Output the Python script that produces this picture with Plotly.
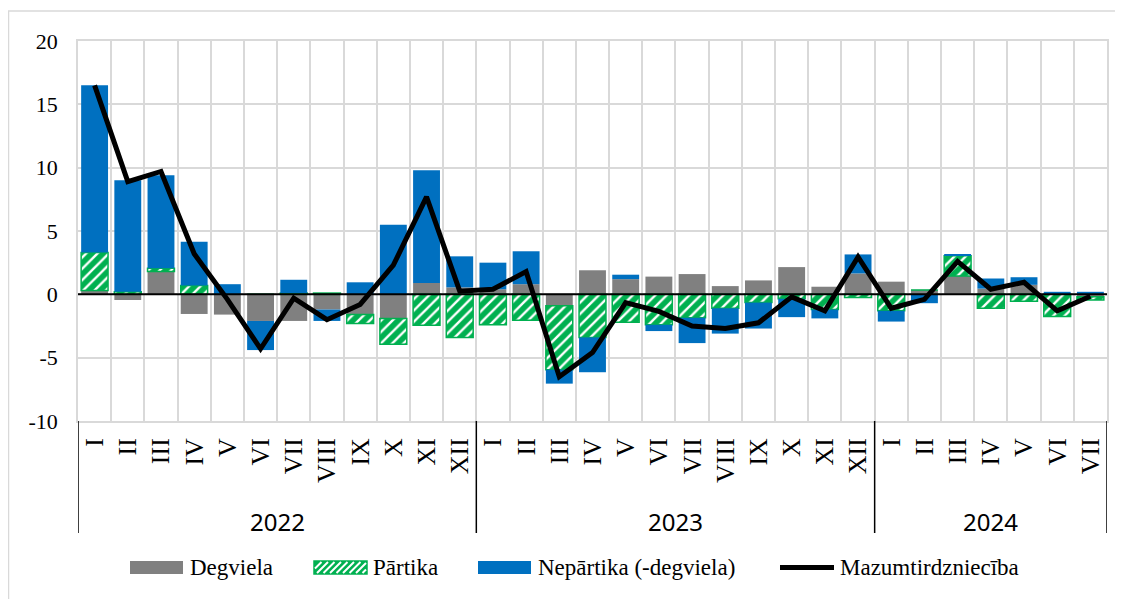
import plotly.graph_objects as go

# ---------------- data ----------------
years = ["2022", "2023", "2024"]
months_2022 = ["I", "II", "III", "IV", "V", "VI", "VII", "VIII", "IX", "X", "XI", "XII"]
months_2023 = ["I", "II", "III", "IV", "V", "VI", "VII", "VIII", "IX", "X", "XI", "XII"]
months_2024 = ["I", "II", "III", "IV", "V", "VI", "VII"]

degviela = [0.3, -0.45, 1.8, -1.55, -1.6, -2.1, -2.1, -1.2, -1.6, -1.9, 0.9, 0.55,
            0.4, 0.8, -0.9, 1.9, 1.2, 1.4, 1.6, 0.65, 1.1, 2.15, 0.6, 1.65,
            1.0, 0.35, 1.45, 0.45, 0.75, 0.05, -0.2]
partika = [3.0, 0.2, 0.25, 0.7, 0.0, 0.0, 0.1, 0.1, -0.7, -2.05, -2.45, -3.4,
           -2.4, -2.05, -5.05, -3.4, -2.2, -2.4, -1.85, -1.1, -0.65, -0.35, -1.2, -0.25,
           -1.3, 0.0, 1.6, -1.1, -0.55, -1.75, -0.25]
nepartika = [13.2, 8.8, 7.35, 3.45, 0.8, -2.3, 1.05, -0.9, 0.95, 5.5, 8.9, 2.45,
             2.1, 2.6, -1.1, -2.75, 0.35, -0.5, -2.0, -2.0, -2.05, -1.45, -0.7, 1.5,
             -0.85, -0.7, 0.1, 0.8, 0.6, 0.15, 0.2]
mazumtirdznieciba = [16.5, 8.9, 9.7, 3.2, -0.4, -4.3, -0.3, -2.0, -0.8, 2.3, 7.7, 0.25,
                     0.4, 1.8, -6.5, -4.6, -0.65, -1.35, -2.5, -2.7, -2.25, -0.2, -1.3, 2.95,
                     -1.1, -0.4, 2.6, 0.4, 0.95, -1.3, -0.15]

series_names = ["Degviela", "Pārtika", "Nepārtika (-degviela)", "Mazumtirdzniecība"]
y_ticks = [-10, -5, 0, 5, 10, 15, 20]

# ---------------- categories ----------------
month_groups = [months_2022, months_2023, months_2024]
cats, month_labels = [], []
for y, ms in zip(years, month_groups):
    for m in ms:
        cats.append(f"{m} {y}")
        month_labels.append(m)

GREY = "#808080"
GREEN = "#00b050"
BLUE = "#0070c0"
GRID = "#d9d9d9"

# page has an 8px body margin -> figure is shifted by 8px
OFF = 8
W, H = 1123 - OFF, 599 - OFF
PL, PT, PRt, PB = 78, 41, 1107, 421  # plot area in page pixels
L, T = PL - OFF, PT - OFF
R = W - (PRt - OFF)
B = H - (PB - OFF)
PW, PH = PRt - PL, PB - PT


def px_x(p):
    return (p - PL) / PW


def px_y(p):
    return (PB - p) / PH


fig = go.Figure()
fig.add_trace(go.Bar(x=cats, y=degviela, name=series_names[0],
                     marker=dict(color=GREY, line=dict(width=0))))
fig.add_trace(go.Bar(x=cats, y=partika, name=series_names[1],
                     marker=dict(color=GREEN, line=dict(color=GREEN, width=1.5),
                                 pattern=dict(shape="/", fgcolor=GREEN, bgcolor="white",
                                              fgopacity=1, size=8, solidity=0.7))))
fig.add_trace(go.Bar(x=cats, y=nepartika, name=series_names[2],
                     marker=dict(color=BLUE, line=dict(width=0))))
fig.add_trace(go.Scatter(x=cats, y=mazumtirdznieciba, name=series_names[3], mode="lines",
                         line=dict(color="black", width=5)))

shapes = []
annotations = []

# zero line on top of bars
shapes.append(dict(type="line", xref="paper", yref="y", x0=0, x1=1, y0=0, y1=0,
                   line=dict(color="black", width=2), layer="above"))

# year group dividers and year labels
start = 0
bounds = [-0.5]
for y, ms in zip(years, month_groups):
    end = start + len(ms)
    bounds.append(end - 0.5)
    annotations.append(dict(x=(start + end - 1) / 2, xref="x", y=px_y(521), yref="paper",
                            text=y, showarrow=False, xanchor="center", yanchor="middle",
                            font=dict(family="Noto Sans", size=24, color="black")))
    start = end
for b in bounds:
    shapes.append(dict(type="line", xref="x", yref="paper", x0=b, x1=b,
                       y0=0, y1=px_y(533), line=dict(color="black", width=1.5)))

# outer chart border
shapes.append(dict(type="rect", xref="paper", yref="paper",
                   x0=px_x(8.5), x1=px_x(1135), y0=px_y(11), y1=px_y(640),
                   line=dict(color=GRID, width=1.5), fillcolor="rgba(0,0,0,0)", layer="below"))

# custom legend
LY0, LY1 = 561, 574
LYC = (LY0 + LY1) / 2
legend_items = [
    (series_names[0], "solid", GREY, 130, 183, 188),
    (series_names[1], "hatch", GREEN, 314, 367, 371),
    (series_names[2], "solid", BLUE, 478, 531, 536),
    (series_names[3], "line", "black", 780, 834, 838),
]
for name, kind, col, x0, x1, tx in legend_items:
    if kind == "solid":
        shapes.append(dict(type="rect", xref="paper", yref="paper",
                           x0=px_x(x0), x1=px_x(x1), y0=px_y(LY1), y1=px_y(LY0),
                           line=dict(width=0), fillcolor=col))
    elif kind == "hatch":
        shapes.append(dict(type="rect", xref="paper", yref="paper",
                           x0=px_x(x0), x1=px_x(x1), y0=px_y(LY1), y1=px_y(LY0),
                           line=dict(color=col, width=1.5), fillcolor=col))
        hgt = LY1 - LY0 - 2
        wid = x1 - x0 - 2
        bx0, by1 = x0 + 1, LY1 - 1
        t = -hgt
        while t < wid:
            u_lo = max(0.0, -t / hgt)
            u_hi = min(1.0, (wid - t) / hgt)
            if u_hi > u_lo:
                sx, sy = bx0 + t + u_lo * hgt, by1 - u_lo * hgt
                ex, ey = bx0 + t + u_hi * hgt, by1 - u_hi * hgt
                shapes.append(dict(type="line", xref="paper", yref="paper",
                                   x0=px_x(sx), y0=px_y(sy), x1=px_x(ex), y1=px_y(ey),
                                   line=dict(color="white", width=2)))
            t += 6.5
    else:
        shapes.append(dict(type="line", xref="paper", yref="paper",
                           x0=px_x(x0), x1=px_x(x1), y0=px_y(LYC), y1=px_y(LYC),
                           line=dict(color=col, width=5)))
    annotations.append(dict(x=px_x(tx), y=px_y(LYC), xref="paper", yref="paper",
                            text=name, showarrow=False, xanchor="left", yanchor="middle",
                            font=dict(family="Liberation Serif", size=23, color="black")))

fig.update_layout(
    width=W, height=H,
    margin=dict(l=L, r=R, t=T, b=B, autoexpand=False),
    paper_bgcolor="white", plot_bgcolor="white",
    barmode="relative", bargap=0.19,
    showlegend=False,
    shapes=shapes, annotations=annotations,
    xaxis=dict(type="category", categoryorder="array", categoryarray=cats,
               tickmode="array", tickvals=cats, ticktext=month_labels,
               tickson="boundaries", ticks="", tickangle=-90,
               showgrid=True, gridcolor=GRID, gridwidth=1.5,
               showline=True, linecolor=GRID, linewidth=1.5, mirror=True,
               tickfont=dict(family="Liberation Serif", size=26, color="black"),
               ticklabelstandoff=5, range=[-0.5, len(cats) - 0.5]),
    yaxis=dict(range=[-10, 20], tickmode="array", tickvals=y_ticks,
               ticktext=[str(v) for v in y_ticks],
               showgrid=True, gridcolor=GRID, gridwidth=1.5, zeroline=False,
               showline=True, linecolor=GRID, linewidth=1.5, mirror=True,
               ticks="", ticklabelstandoff=14,
               tickfont=dict(family="Liberation Serif", size=22, color="black")),
)

fig.write_html("out.html")
